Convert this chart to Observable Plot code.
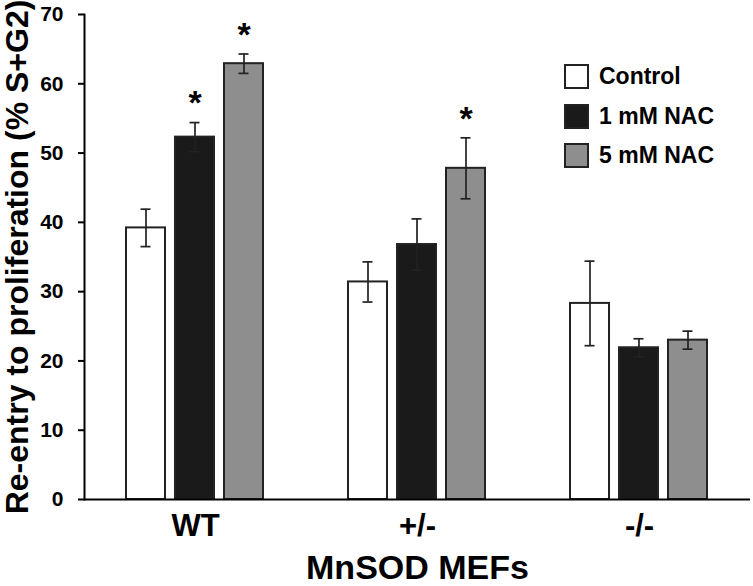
<!DOCTYPE html>
<html><head><meta charset="utf-8">
<script src="https://cdn.jsdelivr.net/npm/d3@7"></script>
<script src="https://cdn.jsdelivr.net/npm/@observablehq/plot@0.6"></script>
<style>
body{margin:0;background:#fff;}
#wrap{position:relative;width:753px;height:586px;}
#legend{position:absolute;left:564px;top:64px;font-family:"Liberation Sans",Arial,sans-serif;font-weight:bold;font-size:23px;color:#000;}
.item{display:flex;align-items:center;height:25px;margin-bottom:14.5px;}
.sw{width:21px;height:21px;border:2px solid #222;margin-right:10px;}
</style></head><body><div id="wrap"><div id="legend"></div></div>
<script>
const groups = ["WT", "+/-", "-/-"];
const series = ["Control", "1 mM NAC", "5 mM NAC"];
const control = [39.2, 31.4, 28.3];
const nac1 = [52.3, 36.8, 21.9];
const nac5 = [62.9, 47.8, 23.0];
const errControl = [2.7, 2.9, 6.1];
const errNac1 = [2.1, 3.7, 1.3];
const errNac5 = [1.4, 4.4, 1.3];
const sigControl = [false, false, false];
const sigNac1 = [true, false, false];
const sigNac5 = [true, true, false];
const yTicks = [0, 10, 20, 30, 40, 50, 60, 70];
const fills = ["#ffffff", "#1a1a1a", "#8e8e8e"];

const vals = [control, nac1, nac5];
const errs = [errControl, errNac1, errNac5];
const sigs = [sigControl, sigNac1, sigNac5];
const data = groups.flatMap((g, i) => series.map((s, j) => ({
  group: g, series: s, value: vals[j][i], err: errs[j][i], sig: sigs[j][i]
})));

const chart = Plot.plot({
  width: 753, height: 586,
  marginLeft: 84, marginRight: 3, marginTop: 14, marginBottom: 87,
  fx: {domain: groups, padding: 0, label: null},
  x: {domain: series, paddingInner: 0.2, paddingOuter: 0.84, axis: null},
  y: {domain: [0, 70]},
  color: {domain: series, range: fills},
  style: {fontFamily: "'Liberation Sans', Arial, sans-serif", fontWeight: "bold", color: "#000", background: "#fff"},
  marks: [
    Plot.barY(data, {fx: "group", x: "series", y: "value", fill: "series", stroke: "#222", strokeWidth: 2}),
    Plot.ruleX(data, {fx: "group", x: "series", y1: d => d.value - d.err, y2: d => d.value + d.err, stroke: "#222", strokeWidth: 1.7}),
    Plot.tickY(data, {fx: "group", x: "series", y: d => d.value + d.err, insetLeft: 14.5, insetRight: 14.5, stroke: "#222", strokeWidth: 1.7}),
    Plot.tickY(data, {fx: "group", x: "series", y: d => d.value - d.err, insetLeft: 14.5, insetRight: 14.5, stroke: "#222", strokeWidth: 1.7}),
    Plot.text(data.filter(d => d.sig), {fx: "group", x: "series", y: d => d.value + d.err, text: () => "*", dy: -19, fontSize: 34, lineAnchor: "middle"}),
    Plot.ruleY([0], {strokeWidth: 2}),
    Plot.frame({anchor: "left", facet: "super", strokeWidth: 2}),
    Plot.axisY({ticks: yTicks, tickSize: 6, tickPadding: 15, fontSize: 21, strokeWidth: 2, label: null}),
    Plot.axisY({ticks: [], label: "Re-entry to proliferation (% S+G2)", labelAnchor: "center", labelArrow: "none", labelOffset: 79, fontSize: 32}),
    Plot.axisFx({anchor: "bottom", tickSize: 0, tickPadding: 14, fontSize: 31, label: null}),
    Plot.axisFx({anchor: "bottom", ticks: [], label: "MnSOD MEFs", labelAnchor: "center", labelArrow: "none", labelOffset: 79, fontSize: 34})
  ]
});
document.getElementById("wrap").prepend(chart);

const legend = document.getElementById("legend");
series.forEach((s, j) => {
  const item = document.createElement("div");
  item.className = "item";
  const sw = document.createElement("div");
  sw.className = "sw";
  sw.style.background = fills[j];
  const lab = document.createElement("span");
  lab.textContent = s;
  item.append(sw, lab);
  legend.append(item);
});
</script>
</body></html>
